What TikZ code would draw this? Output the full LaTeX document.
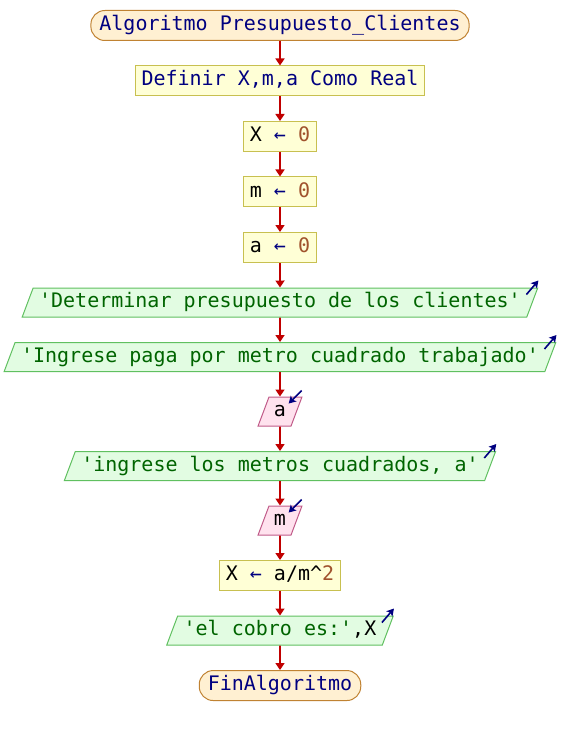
\documentclass[tikz,border=0pt]{standalone}
\usepackage{fontspec}
\setmonofont{DejaVu Sans Mono}
\usepackage{xcolor}
\usepackage{tikz}
\usetikzlibrary{positioning, shapes.geometric, arrows.meta}

\definecolor{kwcolor}{HTML}{000080}
\definecolor{strcolor}{HTML}{006400}
\definecolor{numcolor}{HTML}{A0522D}
\definecolor{flechacolor}{HTML}{C00000}
\definecolor{termfill}{HTML}{FFF0D2}
\definecolor{termdraw}{HTML}{C08232}
\definecolor{procfill}{HTML}{FFFFD6}
\definecolor{procdraw}{HTML}{C8C050}
\definecolor{salfill}{HTML}{E2FCE2}
\definecolor{saldraw}{HTML}{60C060}
\definecolor{entfill}{HTML}{FFE2EE}
\definecolor{entdraw}{HTML}{C05A88}

\newcommand{\kw}[1]{\textcolor{kwcolor}{#1}}
\newcommand{\str}[1]{\textcolor{strcolor}{#1}}
\newcommand{\num}[1]{\textcolor{numcolor}{#1}}

\begin{document}
\begin{tikzpicture}[x=1pt, y=1pt, node distance=24.5pt,
    every node/.style={font=\ttfamily\fontsize{20}{24}\selectfont, text height=15pt, text depth=5pt, inner ysep=5pt}]
    % styles
    \tikzstyle{terminal} = [rectangle, rounded corners=14pt, minimum height=30pt, inner xsep=8.5pt, draw=termdraw, fill=termfill, line width=1pt]
    \tikzstyle{proceso} = [rectangle, minimum height=30pt, inner xsep=6pt, draw=procdraw, fill=procfill, line width=1pt]
    \tikzstyle{salida} = [trapezium, trapezium left angle=68, trapezium right angle=112, trapezium stretches body, minimum height=29pt, inner ysep=3.5pt, inner xsep=6pt, draw=saldraw, fill=salfill, line width=1pt]
    \tikzstyle{entrada} = [trapezium, trapezium left angle=68, trapezium right angle=112, trapezium stretches body, minimum height=29pt, inner ysep=3.5pt, inner xsep=5pt, draw=entdraw, fill=entfill, line width=1pt]
    \tikzstyle{flecha} = [line width=1.6pt, -{Triangle[length=7pt, width=9pt]}, draw=flechacolor]
    \tikzstyle{marca} = [line width=1.6pt, -{Stealth[length=7pt, width=8pt, inset=1.5pt]}, draw=kwcolor]

    \useasboundingbox (0,0) rectangle (560,-735);

    % blocks
    \node (inicio) [terminal] at (280,-25.5) {\kw{Algoritmo Presupuesto\_Clientes}};
    \node (definir) [proceso, below=of inicio] {\kw{Definir X,m,a Como Real}};
    \node (asigx) [proceso, below=of definir] {X \kw{←} \num{0}};
    \node (asigm) [proceso, below=of asigx] {m \kw{←} \num{0}};
    \node (asiga) [proceso, below=of asigm] {a \kw{←} \num{0}};
    \node (sal1) [salida, below=of asiga] {\str{'Determinar presupuesto de los clientes'}};
    \node (sal2) [salida, below=of sal1] {\str{'Ingrese paga por metro cuadrado trabajado'}};
    \node (leea) [entrada, below=of sal2] {a};
    \node (sal3) [salida, below=of leea] {\str{'ingrese los metros cuadrados, a'}};
    \node (leem) [entrada, below=of sal3] {m};
    \node (calc) [proceso, below=of leem] {X \kw{←} a/m\textasciicircum\num{2}};
    \node (sal4) [salida, below=of calc] {\str{'el cobro es:'},X};
    \node (fin) [terminal, below=of sal4] {\kw{FinAlgoritmo}};

    % flow
    \draw [flecha] (inicio) -- (definir);
    \draw [flecha] (definir) -- (asigx);
    \draw [flecha] (asigx) -- (asigm);
    \draw [flecha] (asigm) -- (asiga);
    \draw [flecha] (asiga) -- (sal1);
    \draw [flecha] (sal1) -- (sal2);
    \draw [flecha] (sal2) -- (leea);
    \draw [flecha] (leea) -- (sal3);
    \draw [flecha] (sal3) -- (leem);
    \draw [flecha] (leem) -- (calc);
    \draw [flecha] (calc) -- (sal4);
    \draw [flecha] (sal4) -- (fin);

    % io markers
    \foreach \s in {sal1, sal2, sal3, sal4}
        \draw [marca] ([shift={(-12,-7)}]\s.top right corner) -- ([shift={(0,7)}]\s.top right corner);
    \foreach \e in {leea, leem}
        \draw [marca] ([shift={(-1,6)}]\e.top right corner) -- ([shift={(-14,-7)}]\e.top right corner);
\end{tikzpicture}
\end{document}
